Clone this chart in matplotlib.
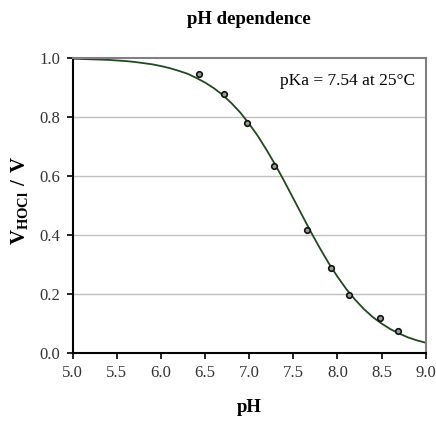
import matplotlib
matplotlib.use("Agg")
import matplotlib.pyplot as plt

plt.rcParams['font.family'] = ['Liberation Serif', 'DejaVu Serif']
plt.rcParams['mathtext.fontset'] = 'custom'
plt.rcParams['mathtext.rm'] = 'Liberation Serif'
plt.rcParams['mathtext.bf'] = 'Liberation Serif:bold'

# Fitted curve
curve_ph = [5.0, 5.1, 5.2, 5.3, 5.4, 5.5, 5.6, 5.7, 5.8, 5.9,
            6.0, 6.1, 6.2, 6.3, 6.4, 6.5, 6.6, 6.7, 6.8, 6.9,
            7.0, 7.1, 7.2, 7.3, 7.4, 7.5, 7.6, 7.7, 7.8, 7.9,
            8.0, 8.1, 8.2, 8.3, 8.4, 8.5, 8.6, 8.7, 8.8, 8.9, 9.0]
curve_val = [0.997, 0.996, 0.995, 0.994, 0.993, 0.991, 0.989, 0.986, 0.982, 0.978,
             0.972, 0.965, 0.956, 0.946, 0.932, 0.916, 0.897, 0.874, 0.846, 0.814,
             0.776, 0.734, 0.686, 0.635, 0.580, 0.523, 0.466, 0.409, 0.355, 0.304,
             0.258, 0.216, 0.180, 0.148, 0.121, 0.099, 0.080, 0.065, 0.052, 0.042, 0.034]

# Measured points
meas_ph = [6.43, 6.71, 6.98, 7.28, 7.66, 7.93, 8.13, 8.48, 8.69]
meas_val = [0.945, 0.876, 0.779, 0.634, 0.416, 0.288, 0.197, 0.119, 0.074]

x_ticks = [5.0, 5.5, 6.0, 6.5, 7.0, 7.5, 8.0, 8.5, 9.0]
y_ticks = [0.0, 0.2, 0.4, 0.6, 0.8, 1.0]

fig = plt.figure(figsize=(4.36, 4.25), dpi=100)
L, B, W, H = 0.1667, 0.170, 0.8097, 0.694
ax = fig.add_axes([L, B, W, H])

for yv in y_ticks[1:-1]:
    ax.axhline(yv, color='#c0c0c0', lw=1.0, zorder=0)

ax.plot(curve_ph, curve_val, color='#1f4a1f', lw=1.3, zorder=2)
ax.plot(meas_ph, meas_val, linestyle='none', marker='o', markersize=4,
        markerfacecolor='#9a9a9a', markeredgecolor='#111111', markeredgewidth=1.2, zorder=3)

ax.set_xlim(5.0, 9.0)
ax.set_ylim(0.0, 1.0)
ax.set_xticks(x_ticks)
ax.set_xticklabels([f"{v:.1f}" for v in x_ticks])
ax.set_yticks(y_ticks)
ax.set_yticklabels([f"{v:.1f}" for v in y_ticks])
ax.tick_params(direction='out', length=4, width=1.2, labelsize=12, colors='black',
               pad=5)
for lab in ax.get_xticklabels() + ax.get_yticklabels():
    lab.set_color('#333333')

ax.spines['left'].set_color('black')
ax.spines['bottom'].set_color('black')
ax.spines['left'].set_linewidth(1.5)
ax.spines['bottom'].set_linewidth(1.5)
ax.spines['top'].set_color('#808080')
ax.spines['right'].set_color('#808080')
ax.spines['top'].set_linewidth(1.5)
ax.spines['right'].set_linewidth(1.5)

ax.text(0.97, 0.92, 'pKa = 7.54 at 25°C', transform=ax.transAxes, ha='right', va='center',
        fontsize=12.5)

cx = L + W / 2
fig.text(cx, 1 - 20 / 425, 'pH dependence', ha='center', va='center',
         fontsize=13.5, fontweight='bold')
fig.text(cx, 1 - 408 / 425, 'pH', ha='center', va='center',
         fontsize=13.5, fontweight='bold')
fig.text(20 / 436, 1 - 200 / 425, r'$\mathbf{V_{HOCl}\ /\ V}$', rotation=90,
         ha='center', va='center', fontsize=15)

fig.savefig('out.png', dpi=100)
